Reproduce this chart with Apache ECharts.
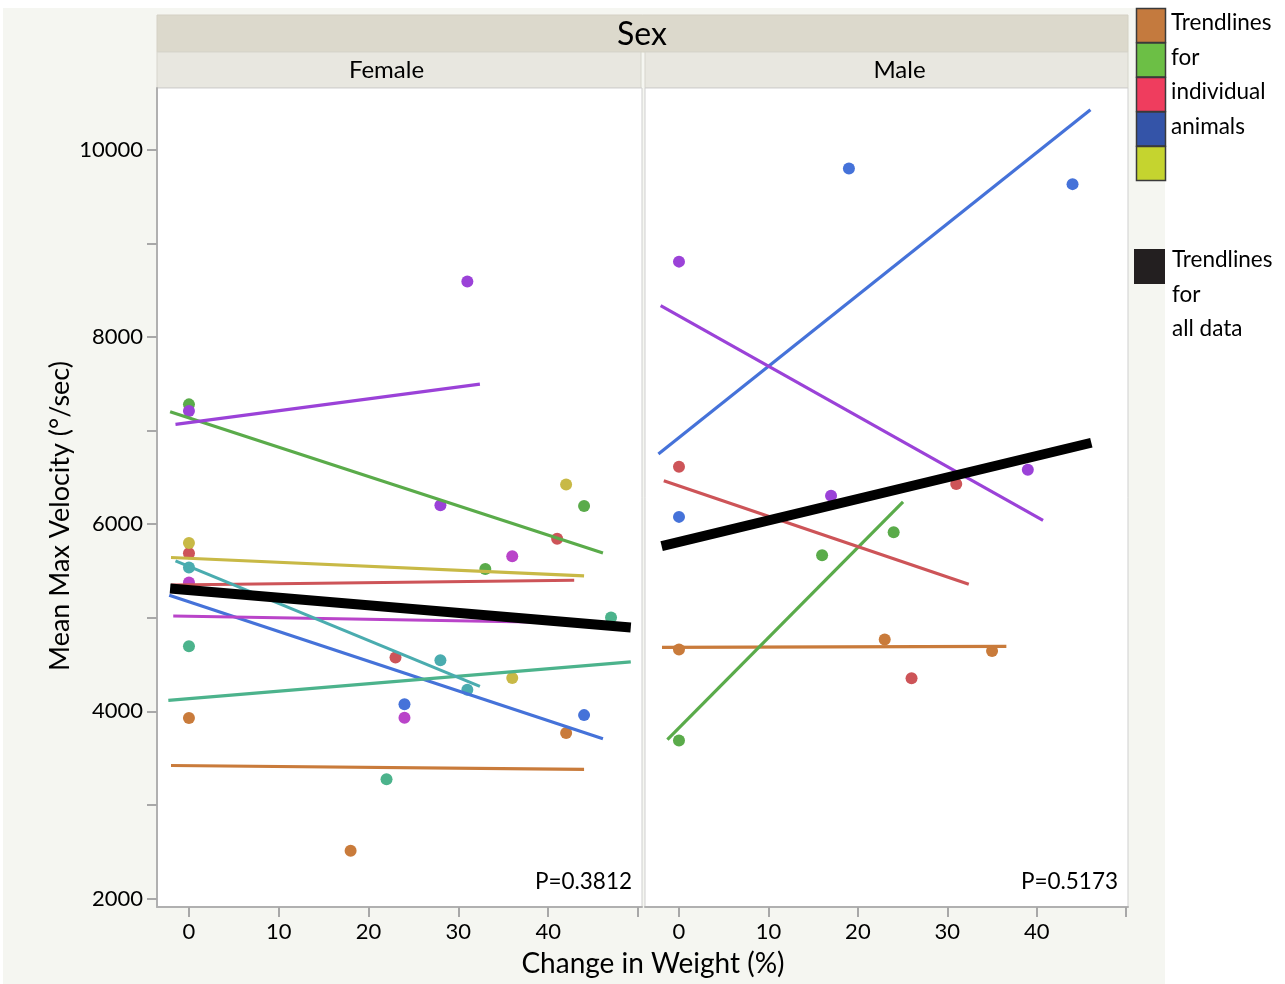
<!DOCTYPE html>
<html>
<head>
<meta charset="utf-8">
<script src="https://cdn.jsdelivr.net/npm/echarts@6/dist/echarts.min.js"></script>
<style>
html,body{margin:0;padding:0;background:#fff;}
#chart{width:1285px;height:984px;}
</style>
</head>
<body>
<div id="chart"></div>
<script>
// ---------- DATA ----------
const panelNames = ['Female', 'Male'];
const stripTitle = 'Sex';
const xTickValues = [0, 10, 20, 30, 40, 50];
const xLabelValues = [0, 10, 20, 30, 40];
const yTickValues = [2000, 3000, 4000, 5000, 6000, 7000, 8000, 9000, 10000];
const yLabelValues = [2000, 4000, 6000, 8000, 10000];
const pValues = ['P=0.3812', 'P=0.5173'];

// Female animals
const femaleIds = ['F1', 'F2', 'F3', 'F4', 'F5', 'F6', 'F7', 'F8', 'F9'];
const femalePtId = ['F1','F1','F1','F2','F2','F2','F3','F3','F3','F4','F4','F4','F5','F5','F5',
                    'F6','F6','F6','F7','F7','F7','F8','F8','F8','F9','F9','F9'];
const femalePtX  = [0, 18, 42,   0, 33, 44,   0, 23, 41,   0, 24, 44,   0, 36, 42,
                    0, 28, 31,   0, 24, 36,   0, 22, 47,   0, 28, 31];
const femalePtY  = [3930, 2510, 3770,  7280, 5520, 6195,  5690, 4575, 5845,  5330, 4075, 3960,  5800, 4357, 6425,
                    7209, 6203, 8592,  5377, 3932, 5658,  4695, 3276, 5002,  5537, 4545, 4232];
const femaleFitX0 = [-2.0, -2.1, -2.0, -2.2, -2.0, -1.5, -1.75, -2.3, -1.5];
const femaleFitY0 = [3422, 7201, 5350, 5241, 5644, 7066, 5019, 4118, 5608];
const femaleFitX1 = [44.0, 46.1, 42.9, 46.1, 44.0, 32.4, 38.0, 49.2, 32.4];
const femaleFitY1 = [3380, 5693, 5401, 3708, 5447, 7497, 4955, 4528, 4267];
const femaleAllX = [-2.1, 49.2];
const femaleAllY = [5312, 4896];

// Male animals
const maleIds = ['M1', 'M2', 'M3', 'M4', 'M5'];
const malePtId = ['M1','M1','M1','M2','M2','M2','M3','M3','M3','M4','M4','M4','M5','M5','M5'];
const malePtX  = [0, 23, 35,   0, 16, 24,   0, 26, 31,   0, 19, 44,   0, 17, 39];
const malePtY  = [4660, 4767, 4645,  3690, 5668, 5914,  6613, 4353, 6428,  6078, 9800, 9633,  8805, 6303, 6581];
const maleFitX0 = [-1.9, -1.3, -1.7, -2.3, -2.05];
const maleFitY0 = [4684, 3697, 6465, 6749, 8335];
const maleFitX1 = [36.6, 25.05, 32.4, 46.0, 40.7];
const maleFitY1 = [4695, 6238, 5358, 10428, 6040];
const maleAllX = [-1.94, 46.1];
const maleAllY = [5765, 6870];

const legendIndividual = ['Trendlines', 'for', 'individual', 'animals'];
const legendAll = ['Trendlines', 'for', 'all data'];

// ---------- STYLE ----------
const femaleColors = ['#c97b3b', '#5aab4a', '#cd5458', '#4572d9', '#c8b946', '#9b42d8', '#b944c9', '#4cb38c', '#4aacaf'];
const maleColors = ['#c97b3b', '#5aab4a', '#cd5458', '#4572d9', '#9b42d8'];
const legendColors = ['#c47a3e', '#6cbf45', '#ef3d5e', '#3454a8', '#c5d42f'];
const FONT = 'Lato, "Liberation Sans", sans-serif';

const grids = [
  {left: 157, top: 88, width: 485, height: 819},
  {left: 645, top: 88, width: 483, height: 819}
];
const xRanges = [[-3.56, 50.45], [-3.8, 50.2]];
const yRange = [1910, 10660];

function buildSeries(pi, ids, colors, ptId, ptX, ptY, fx0, fy0, fx1, fy1, allX, allY) {
  const out = [];
  ids.forEach((id, k) => {
    const pts = [];
    ptId.forEach((p, i) => { if (p === id) pts.push([ptX[i], ptY[i]]); });
    out.push({
      type: 'scatter', name: id, xAxisIndex: pi, yAxisIndex: pi, data: pts,
      symbolSize: 12, itemStyle: {color: colors[k], opacity: 1}, z: 2, silent: true
    });
    out.push({
      type: 'line', xAxisIndex: pi, yAxisIndex: pi,
      data: [[fx0[k], fy0[k]], [fx1[k], fy1[k]]],
      symbol: 'none', lineStyle: {color: colors[k], width: 3.2}, z: 3, silent: true
    });
  });
  out.push({
    type: 'line', xAxisIndex: pi, yAxisIndex: pi,
    data: [[allX[0], allY[0]], [allX[1], allY[1]]],
    symbol: 'none', lineStyle: {color: '#000', width: 10, cap: 'butt'}, z: 5, silent: true
  });
  return out;
}

const series = [].concat(
  buildSeries(0, femaleIds, femaleColors, femalePtId, femalePtX, femalePtY,
              femaleFitX0, femaleFitY0, femaleFitX1, femaleFitY1, femaleAllX, femaleAllY),
  buildSeries(1, maleIds, maleColors, malePtId, malePtX, malePtY,
              maleFitX0, maleFitY0, maleFitX1, maleFitY1, maleAllX, maleAllY)
);

const xAxes = [0, 1].map(i => ({
  type: 'value', gridIndex: i, min: xRanges[i][0], max: xRanges[i][1],
  axisLine: {show: true, onZero: false, lineStyle: {color: '#b0b0b0', width: 2}},
  axisTick: {show: true, customValues: xTickValues, length: 10, lineStyle: {color: '#a8a8a8', width: 2}},
  axisLabel: {show: true, customValues: xLabelValues, margin: 14, color: '#000', fontSize: 22, fontFamily: FONT},
  splitLine: {show: false}
}));

const yAxes = [0, 1].map(i => ({
  type: 'value', gridIndex: i, min: yRange[0], max: yRange[1],
  axisLine: {show: i === 0, onZero: false, lineStyle: {color: '#b0b0b0', width: 2}},
  axisTick: {show: i === 0, customValues: yTickValues, length: 10, lineStyle: {color: '#a8a8a8', width: 2}},
  axisLabel: {show: i === 0, customValues: yLabelValues, margin: 14, color: '#000', fontSize: 22, fontFamily: FONT,
              formatter: v => String(Math.round(v))},
  splitLine: {show: false}
}));

const graphic = [];
// outer background
graphic.push({type: 'rect', z: -10, shape: {x: 3, y: 8, width: 1162, height: 976}, style: {fill: '#f5f6f1'}});
// "Sex" strip
graphic.push({type: 'rect', z: -5, shape: {x: 157, y: 15, width: 971, height: 37}, style: {fill: '#dcd9cc', stroke: '#d4d1c4', lineWidth: 1}});
graphic.push({type: 'text', z: 10, style: {text: stripTitle, x: 642, y: 35, align: 'center', verticalAlign: 'middle', font: '32px ' + FONT, fill: '#000'}});
// panel strips
[0, 1].forEach(i => {
  const g = grids[i];
  graphic.push({type: 'rect', z: -5, shape: {x: g.left, y: 52, width: g.width - (i === 0 ? 1 : 0), height: 36}, style: {fill: '#e8e7e0', stroke: '#d6d5cc', lineWidth: 1}});
  graphic.push({type: 'text', z: 10, style: {text: panelNames[i], x: g.left + g.width / 2 - (i === 0 ? 13 : -13), y: 70, align: 'center', verticalAlign: 'middle', font: '24px ' + FONT, fill: '#000'}});
  graphic.push({type: 'text', z: 10, style: {text: pValues[i], x: g.left + g.width - 10, y: 882, align: 'right', verticalAlign: 'middle', font: '22.5px ' + FONT, fill: '#000'}});
});
// axis titles
graphic.push({type: 'text', z: 10, rotation: Math.PI / 2, x: 60, y: 516, style: {text: 'Mean Max Velocity (°/sec)', x: 0, y: 0, align: 'center', verticalAlign: 'middle', font: '27px ' + FONT, fill: '#000'}});
graphic.push({type: 'text', z: 10, style: {text: 'Change in Weight (%)', x: 653, y: 964, align: 'center', verticalAlign: 'middle', font: '28px ' + FONT, fill: '#000'}});
// legend
legendColors.forEach((c, i) => {
  graphic.push({type: 'rect', z: 10, shape: {x: 1136.5, y: 8.5 + i * 34.5, width: 29, height: 34}, style: {fill: c, stroke: '#3a3a3a', lineWidth: 1.5}});
});
legendIndividual.forEach((t, i) => {
  graphic.push({type: 'text', z: 10, style: {text: t, x: 1171, y: 23 + i * 34.5, align: 'left', verticalAlign: 'middle', font: '22.5px ' + FONT, fill: '#000'}});
});
graphic.push({type: 'rect', z: 10, shape: {x: 1134, y: 249, width: 31, height: 35}, style: {fill: '#231f20'}});
legendAll.forEach((t, i) => {
  graphic.push({type: 'text', z: 10, style: {text: t, x: 1172, y: 260 + i * 34.5, align: 'left', verticalAlign: 'middle', font: '22.5px ' + FONT, fill: '#000'}});
});

const chart = echarts.init(document.getElementById('chart'), null, {renderer: 'canvas'});
chart.setOption({
  backgroundColor: '#ffffff',
  animation: false,
  grid: grids.map(g => Object.assign({show: true, backgroundColor: '#ffffff', borderColor: '#cfcfcf', borderWidth: 1}, g)),
  xAxis: xAxes,
  yAxis: yAxes,
  graphic: graphic,
  series: series
});
</script>
</body>
</html>
